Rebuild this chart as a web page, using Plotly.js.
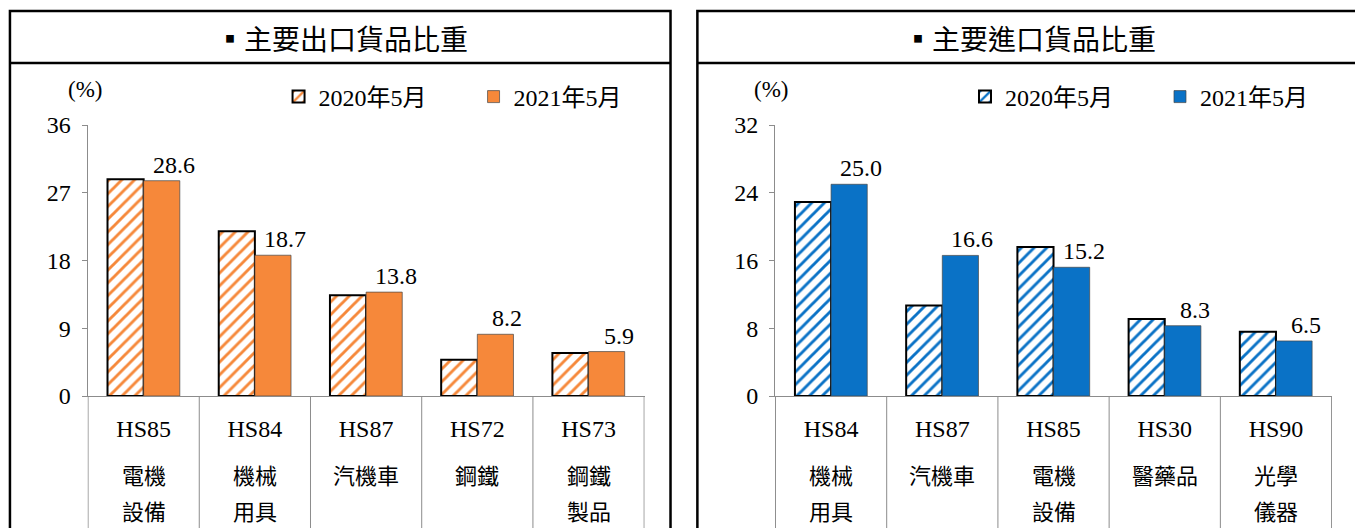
<!DOCTYPE html>
<html><head><meta charset="utf-8">
<script src="https://cdn.plot.ly/plotly-3.0.1.min.js"></script>
<style>html,body{margin:0;padding:0;background:#fff;}#chart{width:1355px;height:528px;}</style>
</head><body><div id="chart"></div>
<script>
// ---- data ----
const seriesNames = ['2020年5月', '2021年5月'];
const expTitle = '▪主要出口貨品比重';
const impTitle = '▪主要進口貨品比重';
const expCats = ['HS85', 'HS84', 'HS87', 'HS72', 'HS73'];
const expNames = [['電機', '設備'], ['機械', '用具'], ['汽機車'], ['鋼鐵'], ['鋼鐵', '製品']];
const exp2020 = [28.8, 21.9, 13.4, 4.8, 5.7];
const exp2021 = [28.6, 18.7, 13.8, 8.2, 5.9];
const impCats = ['HS84', 'HS87', 'HS85', 'HS30', 'HS90'];
const impNames = [['機械', '用具'], ['汽機車'], ['電機', '設備'], ['醫藥品'], ['光學', '儀器']];
const imp2020 = [22.9, 10.7, 17.6, 9.1, 7.6];
const imp2021 = [25.0, 16.6, 15.2, 8.3, 6.5];
const unitLabel = '(%)';

// ---- styling ----
const W = 1355, H = 528;
const px = v => v / W, py = v => 1 - v / H;
const ORANGE = '#F6883A', BLUE = '#0A72C6';
const SERIF = "Liberation Serif, Noto Sans CJK TC, serif";
const CJK = "Noto Sans CJK TC, sans-serif";
const AXC = '#8c8c8c';

function traces(cats, v20, v21, color, xa, ya, lg) {
  return [
    {type: 'bar', x: cats, y: v20, name: seriesNames[0], xaxis: xa, yaxis: ya, legend: lg,
     marker: {color: 'white', line: {color: '#000', width: 2},
              pattern: {shape: '/', fgcolor: color, bgcolor: 'white', size: 9, solidity: 0.32}},
     hoverinfo: 'x+y'},
    {type: 'bar', x: cats, y: v21, name: seriesNames[1], xaxis: xa, yaxis: ya, legend: lg,
     marker: {color: color, line: {color: 'rgba(70,70,70,0.7)', width: 1}},
     hoverinfo: 'x+y'}
  ];
}

const data = [
  ...traces(expCats, exp2020, exp2021, ORANGE, 'x', 'y', 'legend'),
  ...traces(impCats, imp2020, imp2021, BLUE, 'x2', 'y2', 'legend2')
];

function xaxis(dom, anchor) {
  return {domain: dom, anchor: anchor, type: 'category', showline: true, linecolor: AXC, linewidth: 1,
          ticks: '', showgrid: false, zeroline: false, fixedrange: true,
          tickfont: {family: SERIF, size: 24, color: '#000'}, ticklabelstandoff: 11};
}
function yaxis(dom, anchor, max, step) {
  return {domain: dom, anchor: anchor, range: [0, max], dtick: step, tick0: 0, showline: true,
          linecolor: AXC, linewidth: 1, ticks: 'outside', ticklen: 5, tickcolor: AXC,
          showgrid: false, zeroline: false, fixedrange: true,
          tickfont: {family: SERIF, size: 24, color: '#000'}, ticklabelstandoff: 6};
}

const yDom = [132 / H, 403 / H];
const legendBase = {orientation: 'h', y: py(97), xanchor: 'left', yanchor: 'middle',
           font: {family: SERIF, size: 24, color: '#000'}, entrywidth: 150, entrywidthmode: 'pixels',
           bgcolor: 'rgba(0,0,0,0)', itemclick: false, itemdoubleclick: false, itemwidth: 30};
const layout = {
  width: W, height: H, margin: {l: 0, r: 0, t: 0, b: 0}, paper_bgcolor: '#fff', plot_bgcolor: 'rgba(0,0,0,0)',
  barmode: 'group', bargap: 0.35, bargroupgap: 0,
  showlegend: true,
  xaxis: xaxis([px(88), px(648)], 'y'),
  yaxis: yaxis(yDom, 'x', 36, 9),
  xaxis2: xaxis([px(779), px(1339)], 'y2'),
  yaxis2: yaxis(yDom, 'x2', 32, 8),
  legend: Object.assign({}, legendBase, {x: px(280)}),
  legend2: Object.assign({}, legendBase, {x: px(970)}),
  shapes: [], annotations: []
};

// panel frames
const frame = {type: 'rect', xref: 'paper', yref: 'paper', line: {color: '#000', width: 2.5}, fillcolor: 'rgba(0,0,0,0)'};
layout.shapes.push(Object.assign({}, frame, {x0: px(10), x1: px(674), y0: py(560), y1: py(11)}));
layout.shapes.push(Object.assign({}, frame, {x0: px(701), x1: px(1380), y0: py(560), y1: py(11)}));
layout.shapes.push({type: 'line', xref: 'paper', yref: 'paper', x0: px(10), x1: px(674), y0: py(63), y1: py(63), line: {color: '#000', width: 2.5}});
layout.shapes.push({type: 'line', xref: 'paper', yref: 'paper', x0: px(701), x1: px(1380), y0: py(63), y1: py(63), line: {color: '#000', width: 2.5}});

// titles
layout.annotations.push({text: expTitle, xref: 'paper', yref: 'paper', x: px(344), y: py(38), showarrow: false,
  font: {family: CJK, size: 28, color: '#000'}, xanchor: 'center', yanchor: 'middle'});
layout.annotations.push({text: impTitle, xref: 'paper', yref: 'paper', x: px(1035), y: py(38), showarrow: false,
  font: {family: CJK, size: 28, color: '#000'}, xanchor: 'center', yanchor: 'middle'});
// unit labels
layout.annotations.push({text: unitLabel, xref: 'paper', yref: 'paper', x: px(85), y: py(90), showarrow: false,
  font: {family: SERIF, size: 23, color: '#000'}, xanchor: 'center', yanchor: 'middle'});
layout.annotations.push({text: unitLabel, xref: 'paper', yref: 'paper', x: px(775), y: py(90), showarrow: false,
  font: {family: SERIF, size: 23, color: '#000'}, xanchor: 'center', yanchor: 'middle'});

function panelExtras(cats, names, v21, xref) {
  // category dividers (table grid below axis)
  for (let i = 0; i <= cats.length; i++) {
    layout.shapes.push({type: 'line', xref: xref, yref: 'paper', x0: i - 0.5, x1: i - 0.5, y0: yDom[0], y1: -0.05,
                        line: {color: AXC, width: 1}});
  }
  cats.forEach((c, i) => {
    // value labels on 2021 bars
    layout.annotations.push({text: v21[i].toFixed(1), xref: xref, yref: xref.replace('x', 'y'), x: c, y: v21[i],
      xshift: 30, yshift: 1, yanchor: 'bottom', showarrow: false, font: {family: SERIF, size: 24, color: '#000'}});
    // Chinese category names
    names[i].forEach((ln, j) => {
      layout.annotations.push({text: ln, xref: xref, yref: 'paper', x: c, y: py(474 + 36 * j), yanchor: 'middle',
        showarrow: false, font: {family: CJK, size: 22, color: '#000'}});
    });
  });
}
panelExtras(expCats, expNames, exp2021, 'x');
panelExtras(impCats, impNames, imp2021, 'x2');

Plotly.newPlot('chart', data, layout, {displayModeBar: false, staticPlot: true});
</script></body></html>
